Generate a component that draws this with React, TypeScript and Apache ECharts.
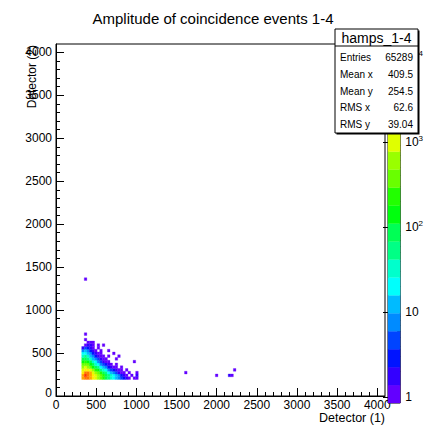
import React, { useEffect, useRef } from "react";
import * as echarts from "echarts";

// ---- histogram data (bin width 32 in both detectors) ----
const BIN = 32;
const COL_X0 = 320; // lower edge of the first column of the dense block
const rowYStart = [192, 224, 256, 288, 320, 352, 384, 416, 448, 480, 512, 544, 576, 608, 640, 672, 704];
const row06 = [2400, 4700, 4300, 2900, 1750, 1050, 600, 330, 180, 100, 60, 38, 24, 14, 8, 5, 3, 2, 1, 0, 1, 1];
const row07 = [2500, 7600, 4700, 3000, 1900, 1100, 640, 360, 190, 105, 58, 32, 18, 10, 6, 3, 2, 1, 0, 1, 0, 2];
const row08 = [1900, 4400, 3500, 2100, 1200, 650, 350, 185, 95, 48, 25, 13, 7, 4, 2, 1, 1, 0, 1, 0, 0, 1];
const row09 = [1050, 1900, 1500, 880, 480, 250, 130, 66, 33, 17, 9, 5, 3, 2, 1, 1, 0, 1, 0, 0, 0, 0];
const row10 = [560, 800, 600, 330, 170, 85, 42, 21, 11, 6, 3, 2, 1, 1, 0, 1, 0, 0, 0, 0, 0, 0];
const row11 = [300, 400, 290, 150, 75, 36, 18, 9, 5, 3, 2, 1, 0, 1, 0, 0, 0, 0, 0, 0, 0, 0];
const row12 = [160, 200, 140, 70, 34, 16, 8, 4, 2, 1, 1, 0, 0, 0, 0, 0, 0, 0, 0, 0, 1, 0];
const row13 = [80, 95, 65, 32, 15, 7, 4, 2, 1, 1, 0, 0, 0, 1, 0, 0, 0, 0, 0, 0, 0, 0];
const row14 = [40, 45, 30, 15, 7, 3, 2, 1, 1, 0, 1, 0, 0, 0, 1, 0, 0, 0, 0, 0, 0, 0];
const row15 = [18, 22, 14, 7, 3, 2, 1, 1, 0, 0, 0, 0, 1, 0, 0, 0, 0, 0, 0, 0, 0, 0];
const row16 = [8, 10, 6, 3, 2, 1, 0, 1, 0, 0, 1, 0, 0, 0, 0, 0, 0, 0, 0, 0, 0, 0];
const row17 = [2, 4, 3, 2, 1, 0, 1, 0, 0, 0, 0, 0, 0, 0, 0, 0, 0, 0, 0, 0, 0, 0];
const row18 = [0, 1, 2, 2, 1, 0, 1, 0, 1, 0, 0, 0, 0, 0, 0, 0, 0, 0, 0, 0, 0, 0];
const row19 = [0, 0, 1, 1, 1, 0, 0, 0, 0, 0, 0, 0, 0, 0, 0, 0, 0, 0, 0, 0, 0, 0];
const row20 = [0, 1, 0, 0, 0, 0, 0, 0, 0, 0, 0, 0, 0, 0, 0, 0, 0, 0, 0, 0, 0, 0];
const row21 = [0, 0, 0, 0, 0, 0, 0, 0, 0, 0, 0, 0, 0, 0, 0, 0, 0, 0, 0, 0, 0, 0];
const row22 = [0, 1, 0, 0, 0, 0, 0, 0, 0, 0, 0, 0, 0, 0, 0, 0, 0, 0, 0, 0, 0, 0];
const rowCounts = [row06, row07, row08, row09, row10, row11, row12, row13, row14, row15, row16, row17, row18, row19, row20, row21, row22];

// isolated cells
const outlierX = [352, 1600, 1984, 2144, 2176, 2208];
const outlierY = [1344, 256, 224, 224, 224, 288];
const outlierCount = [1, 1, 1, 2, 1, 1];

// axes
const AXIS_MAX = 4096;
const xMajorTicks = [0, 500, 1000, 1500, 2000, 2500, 3000, 3500, 4000];
const yMajorTicks = [0, 500, 1000, 1500, 2000, 2500, 3000, 3500, 4000];
const minorTicks = [
  0, 100, 200, 300, 400, 500, 600, 700, 800, 900, 1000, 1100, 1200, 1300, 1400, 1500, 1600, 1700, 1800, 1900,
  2000, 2100, 2200, 2300, 2400, 2500, 2600, 2700, 2800, 2900, 3000, 3100, 3200, 3300, 3400, 3500, 3600, 3700,
  3800, 3900, 4000,
];

// colour scale (log10 of counts)
const Z_LOG_MIN = -0.07;
const Z_LOG_MAX = 4.15;
const N_LEVELS = 20;
const zDecades = [0, 1, 2, 3, 4];
const zMinorMultipliers = [2, 3, 4, 5, 6, 7, 8, 9];

// texts
const TITLE = "Amplitude of coincidence events 1-4";
const X_NAME = "Detector (1)";
const Y_NAME = "Detector (2)";
const STATS_NAME = "hamps_1-4";
const statLabels = ["Entries", "Mean x", "Mean y", "RMS x", "RMS y"];
const statValues = ["65289", "409.5", "254.5", "62.6", "39.04"];

const FONT = "Liberation Sans, Arial, sans-serif";

function hslToRgb(h: number, s: number, l: number) {
  const c = (1 - Math.abs(2 * l - 1)) * s;
  const hp = h / 60;
  const x = c * (1 - Math.abs((hp % 2) - 1));
  let r = 0, g = 0, b = 0;
  if (hp < 1) [r, g, b] = [c, x, 0];
  else if (hp < 2) [r, g, b] = [x, c, 0];
  else if (hp < 3) [r, g, b] = [0, c, x];
  else if (hp < 4) [r, g, b] = [0, x, c];
  else if (hp < 5) [r, g, b] = [x, 0, c];
  else [r, g, b] = [c, 0, x];
  const m = l - c / 2;
  const f = (v: number) => Math.round((v + m) * 255);
  return `rgb(${f(r)},${f(g)},${f(b)})`;
}

// ROOT "pretty palette": 50 colours, hue 280 -> 0, 20 contour levels
function levelColor(k: number) {
  const c = Math.floor(((k + 0.99) * 50) / N_LEVELS);
  const hue = Math.max(0, 280 - (c + 1) * 5.6);
  return hslToRgb(hue, 1, 0.5);
}
const STEP = (Z_LOG_MAX - Z_LOG_MIN) / N_LEVELS;
function countColor(n: number) {
  const lg = Math.log10(n);
  let k = Math.floor((lg - Z_LOG_MIN) / STEP);
  if (k < 0) k = 0;
  if (k > N_LEVELS - 1) k = N_LEVELS - 1;
  return levelColor(k);
}

function buildCells() {
  const cells: number[][] = [];
  rowCounts.forEach((row, r) => {
    row.forEach((n, c) => {
      if (n > 0) cells.push([COL_X0 + c * BIN, rowYStart[r], n]);
    });
  });
  outlierX.forEach((x, i) => cells.push([x, outlierY[i], outlierCount[i]]));
  return cells;
}

export default function App() {
  const ref = useRef<HTMLDivElement>(null);
  useEffect(() => {
    if (!ref.current) return;
    const chart = echarts.init(ref.current, undefined, { renderer: "svg" });
    const cells = buildCells();
    const bands: number[][] = [];
    for (let k = 0; k < N_LEVELS; k++) bands.push([k, Z_LOG_MIN + k * STEP, Z_LOG_MIN + (k + 1) * STEP]);
    const zMinor: number[] = [];
    zDecades.forEach((d) =>
      zMinorMultipliers.forEach((m) => {
        const v = d + Math.log10(m);
        if (v < Z_LOG_MAX) zMinor.push(v);
      })
    );

    const axisLabelStyle = { color: "#000", fontFamily: FONT, fontSize: 12 };
    const statsX = 335, statsY = 29, statsW = 83, statsTitleH = 17, statsH = 104;

    chart.setOption({
      animation: false,
      backgroundColor: "#fff",
      title: {
        text: TITLE,
        left: "center",
        top: 6,
        textStyle: { color: "#000", fontFamily: FONT, fontSize: 15, fontWeight: "normal" },
      },
      grid: [
        { left: 56, top: 44, width: 329, height: 352, show: true, borderColor: "#000", borderWidth: 1, backgroundColor: "transparent" },
        { left: 388, top: 44, width: 17, height: 359, show: true, borderColor: "#000", borderWidth: 1, backgroundColor: "transparent" },
      ],
      xAxis: [
        {
          gridIndex: 0, type: "value", min: 0, max: AXIS_MAX, interval: 500, position: "bottom",
          axisLine: { show: true, lineStyle: { color: "#000", width: 1 } },
          axisTick: { show: true, inside: true, length: 8, customValues: xMajorTicks, lineStyle: { color: "#000" } },
          axisLabel: { show: true, customValues: xMajorTicks, margin: 3, ...axisLabelStyle, formatter: (v: number) => String(v) },
          splitLine: { show: false },
        },
        {
          gridIndex: 0, type: "value", min: 0, max: AXIS_MAX, position: "bottom",
          axisLine: { show: false },
          axisTick: { show: true, inside: true, length: 4, customValues: minorTicks, lineStyle: { color: "#000" } },
          axisLabel: { show: false },
          splitLine: { show: false },
        },
        {
          gridIndex: 1, type: "value", min: 0, max: 1, show: false,
        },
      ],
      yAxis: [
        {
          gridIndex: 0, type: "value", min: 0, max: AXIS_MAX, interval: 500, position: "left",
          axisLine: { show: true, lineStyle: { color: "#000", width: 1 } },
          axisTick: { show: true, inside: true, length: 8, customValues: yMajorTicks, lineStyle: { color: "#000" } },
          axisLabel: {
            show: true, customValues: yMajorTicks, margin: 4, ...axisLabelStyle,
            formatter: (v: number) => (v === 0 ? "{z|0}" : String(v)),
            rich: { z: { ...axisLabelStyle, padding: [0, 0, 7, 0] } },
          },
          splitLine: { show: false },
        },
        {
          gridIndex: 0, type: "value", min: 0, max: AXIS_MAX, position: "left",
          axisLine: { show: false },
          axisTick: { show: true, inside: true, length: 4, customValues: minorTicks, lineStyle: { color: "#000" } },
          axisLabel: { show: false },
          splitLine: { show: false },
        },
        {
          gridIndex: 1, type: "value", min: Z_LOG_MIN, max: Z_LOG_MAX, position: "right",
          axisLine: { show: false },
          axisTick: { show: true, inside: true, length: 5, customValues: zDecades, lineStyle: { color: "#000" } },
          axisLabel: {
            show: true, customValues: zDecades, margin: 5, ...axisLabelStyle,
            formatter: (v: number) => (v === 0 ? "1" : v === 1 ? "10" : `{b|10}{s|${v}}`),
            rich: {
              b: { ...axisLabelStyle },
              s: { color: "#000", fontFamily: FONT, fontSize: 8, verticalAlign: "top", padding: [0, 0, 6, 0] },
            },
          },
          splitLine: { show: false },
        },
        {
          gridIndex: 1, type: "value", min: Z_LOG_MIN, max: Z_LOG_MAX, position: "right",
          axisLine: { show: false },
          axisTick: { show: true, inside: true, length: 3, customValues: zMinor, lineStyle: { color: "#000" } },
          axisLabel: { show: false },
          splitLine: { show: false },
        },
      ],
      series: [
        {
          type: "custom",
          xAxisIndex: 0,
          yAxisIndex: 0,
          data: cells,
          encode: { x: 0, y: 1 },
          clip: true,
          renderItem: (params: any, api: any) => {
            const x = api.value(0), y = api.value(1), n = api.value(2);
            const p0 = api.coord([x, y]);
            const p1 = api.coord([x + BIN, y + BIN]);
            const col = countColor(n);
            return {
              type: "rect",
              shape: { x: p0[0], y: p1[1], width: p1[0] - p0[0], height: p0[1] - p1[1] },
              style: { fill: col, stroke: col, lineWidth: 0.3 },
            };
          },
        },
        {
          type: "custom",
          xAxisIndex: 2,
          yAxisIndex: 2,
          data: bands,
          encode: { y: [1, 2] },
          renderItem: (params: any, api: any) => {
            const k = api.value(0), lo = api.value(1), hi = api.value(2);
            const p0 = api.coord([0, lo]);
            const p1 = api.coord([1, hi]);
            const col = levelColor(k);
            return {
              type: "rect",
              shape: { x: p0[0], y: p1[1], width: p1[0] - p0[0], height: p0[1] - p1[1] },
              style: { fill: col, stroke: col, lineWidth: 0.3 },
            };
          },
        },
      ],
      graphic: [
        {
          type: "text", x: 32, y: 45, rotation: Math.PI / 2, z: 50,
          style: { text: Y_NAME, fill: "#000", font: `12px ${FONT}`, align: "right", verticalAlign: "middle" },
        },
        {
          type: "text", x: 385, y: 418, z: 50,
          style: { text: X_NAME, fill: "#000", font: `12.5px ${FONT}`, align: "right", verticalAlign: "middle" },
        },
        {
          type: "group", z: 100,
          children: [
            { type: "rect", z: 100, shape: { x: statsX + 1.5, y: statsY + 1.5, width: statsW, height: statsH }, style: { fill: "#000" } },
            { type: "rect", z: 101, shape: { x: statsX, y: statsY, width: statsW, height: statsH }, style: { fill: "#fff", stroke: "#000", lineWidth: 1 } },
            { type: "line", z: 102, shape: { x1: statsX, y1: statsY + statsTitleH, x2: statsX + statsW, y2: statsY + statsTitleH }, style: { stroke: "#000", lineWidth: 1 } },
            {
              type: "text", z: 103, x: statsX + statsW / 2, y: statsY + statsTitleH / 2 + 0.5,
              style: { text: STATS_NAME, fill: "#000", font: `14px ${FONT}`, align: "center", verticalAlign: "middle" },
            },
            ...statLabels.map((t, i) => ({
              type: "text", z: 103, x: statsX + 5, y: 57.5 + i * 16.75,
              style: { text: t, fill: "#000", font: `10px ${FONT}`, align: "left", verticalAlign: "middle" },
            })),
            ...statValues.map((t, i) => ({
              type: "text", z: 103, x: statsX + 78, y: 57.5 + i * 16.75,
              style: { text: t, fill: "#000", font: `10px ${FONT}`, align: "right", verticalAlign: "middle" },
            })),
          ],
        },
      ],
    });
    return () => chart.dispose();
  }, []);
  return (
    <div
      ref={ref}
      style={{ position: "fixed", left: 0, top: 0, width: 426, height: 426, background: "#fff" }}
    />
  );
}
